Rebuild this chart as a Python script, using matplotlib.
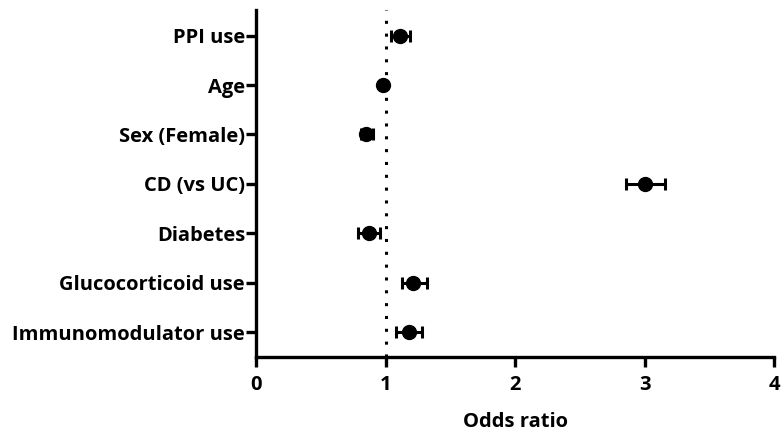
import matplotlib
matplotlib.use("Agg")
import matplotlib.pyplot as plt
import numpy as np

plt.rcParams['font.family'] = ['Open Sans', 'DejaVu Sans']

labels = ["PPI use", "Age", "Sex (Female)", "CD (vs UC)", "Diabetes",
          "Glucocorticoid use", "Immunomodulator use"]
odds = [1.11, 0.98, 0.85, 3.00, 0.87, 1.21, 1.18]
ci_low = [1.04, 0.97, 0.81, 2.86, 0.79, 1.13, 1.08]
ci_high = [1.19, 0.99, 0.90, 3.16, 0.96, 1.32, 1.28]
xticks = [0, 1, 2, 3, 4]

fig = plt.figure(figsize=(7.81, 4.32), dpi=100)
ax = fig.add_axes([0.328, 0.174, 0.663, 0.803])

y = np.arange(len(labels))
odds_a = np.array(odds)
err = np.vstack([odds_a - np.array(ci_low), np.array(ci_high) - odds_a])

ax.axvline(1, color='black', linestyle=(0, (1, 3.2)), linewidth=2.2, zorder=1)
ax.errorbar(odds, y, xerr=err, fmt='o', color='black', markersize=10,
            elinewidth=2.2, capsize=4.5, capthick=2.2, zorder=3)

ax.set_ylim(len(labels) - 0.5, -0.52)
ax.set_xlim(0, 4)
ax.set_xticks(xticks)
ax.set_xticklabels([str(t) for t in xticks], fontsize=14.5, fontweight='bold')
ax.set_yticks(y)
ax.set_yticklabels(labels, fontsize=14.5, fontweight='bold')
ax.set_xlabel("Odds ratio", fontsize=14.5, fontweight='bold', labelpad=12)

for s in ['top', 'right']:
    ax.spines[s].set_visible(False)
for s in ['left', 'bottom']:
    ax.spines[s].set_linewidth(2.4)
ax.tick_params(axis='both', width=2.4, length=7, direction='out')
ax.tick_params(axis='x', pad=6)
ax.tick_params(axis='y', pad=1)

fig.savefig("out.png", dpi=100)
